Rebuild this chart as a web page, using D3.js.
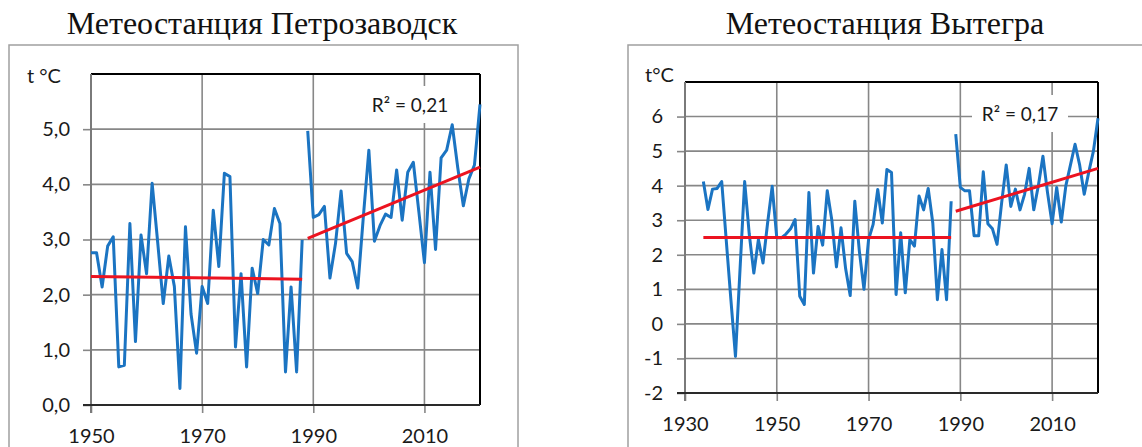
<!DOCTYPE html>
<html>
<head>
<meta charset="utf-8">
<script src="https://cdn.jsdelivr.net/npm/d3@7"></script>
<style>
body { margin: 0; background: #fff; }
svg { display: block; }
</style>
</head>
<body>
<div id="chart"></div>
<script>
// Метеостанция Петрозаводск, среднегодовая температура
var petroYears1 = d3.range(1950, 1989);
var petroTemp1 = [2.76, 2.76, 2.14, 2.88, 3.05, 0.69, 0.72, 3.29, 1.15, 3.08,
	2.38, 4.02, 2.95, 1.84, 2.70, 2.15, 0.30, 3.23, 1.65, 0.94,
	2.15, 1.84, 3.53, 2.51, 4.20, 4.14, 1.05, 2.38, 0.69, 2.48,
	2.02, 3.00, 2.90, 3.56, 3.29, 0.60, 2.14, 0.60, 2.99];
var petroYears2 = d3.range(1989, 2021);
var petroTemp2 = [4.97, 3.40, 3.45, 3.60, 2.30, 2.93, 3.88, 2.75, 2.60, 2.12,
	3.40, 4.62, 2.97, 3.25, 3.46, 3.40, 4.26, 3.35, 4.22, 4.40,
	3.50, 2.58, 4.22, 2.82, 4.48, 4.62, 5.08, 4.30, 3.61, 4.10,
	4.35, 5.45];
var petroTrendYears1 = [1950, 1988];
var petroTrend1 = [2.33, 2.28];
var petroTrendYears2 = [1989, 2020];
var petroTrend2 = [3.02, 4.31];

// Метеостанция Вытегра
var vytYears1 = d3.range(1934, 1989);
var vytTemp1 = [4.12, 3.31, 3.90, 3.92, 4.12, 2.40, 0.70, -0.94, 1.60, 4.12,
	2.60, 1.47, 2.44, 1.76, 2.92, 3.98, 2.49, 2.49, 2.60, 2.75,
	3.02, 0.80, 0.56, 3.80, 1.47, 2.82, 2.28, 3.85, 3.00, 1.65,
	2.78, 1.60, 0.82, 3.55, 2.10, 1.00, 2.44, 2.88, 3.89, 2.92,
	4.47, 4.38, 0.85, 2.64, 0.90, 2.44, 2.25, 3.70, 3.30, 3.92,
	2.92, 0.70, 2.15, 0.70, 3.55];
var vytYears2 = d3.range(1989, 2021);
var vytTemp2 = [5.49, 3.95, 3.85, 3.85, 2.55, 2.55, 4.40, 2.90, 2.75, 2.30,
	3.50, 4.60, 3.40, 3.90, 3.30, 3.75, 4.50, 3.30, 4.00, 4.85,
	3.80, 2.90, 3.95, 2.95, 4.00, 4.60, 5.20, 4.60, 3.75, 4.40,
	5.00, 5.95];
var vytTrendYears1 = [1934, 1988];
var vytTrend1 = [2.50, 2.50];
var vytTrendYears2 = [1989, 2020];
var vytTrend2 = [3.26, 4.50];

var petroYTicks = [0, 1, 2, 3, 4, 5];
var petroXTicks = [1950, 1970, 1990, 2010];
var vytYTicks = [-2, -1, 0, 1, 2, 3, 4, 5, 6];
var vytXTicks = [1930, 1950, 1970, 1990, 2010];

var W = 1142, H = 447;
var svg = d3.select("#chart").append("svg")
	.attr("width", W)
	.attr("height", H);

function zip(xs, ys){
	return xs.map(function(d, i){ return {year: d, t: ys[i]}; });
}

function drawPanel(o){
	var g = svg.append("g");
	var x = d3.scaleLinear().domain(o.xDomain).range([o.left, o.right]);
	var y = d3.scaleLinear().domain(o.yDomain).range([o.bottom, o.top]);

	// outer frame of the picture
	g.append("rect")
		.attr("x", o.box[0])
		.attr("y", o.box[1])
		.attr("width", o.box[2] - o.box[0])
		.attr("height", o.box[3] - o.box[1])
		.attr("fill", "none")
		.attr("stroke", "#a0a0a0")
		.attr("stroke-width", 1.5);

	g.append("text")
		.attr("x", o.titleX)
		.attr("y", 34)
		.attr("text-anchor", "middle")
		.style("font-family", "'Liberation Serif', 'Times New Roman', serif")
		.style("font-size", "32px")
		.attr("fill", "#111")
		.text(o.title);

	// grid
	g.selectAll(".hgrid").data(o.yTicks).enter().append("line")
		.attr("x1", o.left)
		.attr("x2", o.right)
		.attr("y1", function(d){ return y(d); })
		.attr("y2", function(d){ return y(d); })
		.attr("stroke", "#878787")
		.attr("stroke-width", 1.6);
	g.selectAll(".vgrid").data(o.xTicks).enter().append("line")
		.attr("x1", function(d){ return x(d); })
		.attr("x2", function(d){ return x(d); })
		.attr("y1", o.top)
		.attr("y2", o.bottom)
		.attr("stroke", "#878787")
		.attr("stroke-width", 1.6);

	var yAxis = g.append("g")
		.attr("transform", "translate(" + o.left + ",0)")
		.call(d3.axisLeft(y).tickValues(o.yTicks).tickFormat(o.yFmt)
			.tickSize(8).tickPadding(o.yPad).tickSizeOuter(0));
	var xAxis = g.append("g")
		.attr("transform", "translate(0," + o.bottom + ")")
		.call(d3.axisBottom(x).tickValues(o.xTicks).tickFormat(d3.format("d"))
			.tickSize(8).tickPadding(16).tickSizeOuter(0));
	[yAxis, xAxis].forEach(function(a){
		a.select(".domain").remove();
		a.selectAll(".tick line").attr("stroke", "#878787").attr("stroke-width", 1.6);
		a.selectAll(".tick text")
			.style("font-family", "Lato, 'Open Sans', sans-serif")
			.style("font-size", "20px")
			.attr("fill", "#1a1a1a");
	});

	// plot frame: top and right black, left and bottom axes
	g.append("line").attr("x1", o.left).attr("x2", o.right).attr("y1", o.top).attr("y2", o.top)
		.attr("stroke", "#000").attr("stroke-width", 2);
	g.append("line").attr("x1", o.right).attr("x2", o.right).attr("y1", o.top).attr("y2", o.bottom)
		.attr("stroke", "#000").attr("stroke-width", 2);
	g.append("line").attr("x1", o.left).attr("x2", o.left).attr("y1", o.top).attr("y2", o.bottom + 8)
		.attr("stroke", "#7a7a7a").attr("stroke-width", 2);
	g.append("line").attr("x1", o.left - 8).attr("x2", o.right).attr("y1", o.bottom).attr("y2", o.bottom)
		.attr("stroke", "#2a2a2a").attr("stroke-width", 2);

	g.append("text")
		.attr("x", o.unitX)
		.attr("y", o.unitY)
		.style("font-family", "Lato, 'Open Sans', sans-serif")
		.style("font-size", "20px")
		.attr("fill", "#1a1a1a")
		.text(o.unit);

	// R² label with white background
	g.append("rect")
		.attr("x", o.r2Box[0])
		.attr("y", o.r2Box[1])
		.attr("width", o.r2Box[2] - o.r2Box[0])
		.attr("height", o.r2Box[3] - o.r2Box[1])
		.attr("fill", "#fff");
	g.append("text")
		.attr("x", (o.r2Box[0] + o.r2Box[2]) / 2)
		.attr("y", o.r2Y)
		.attr("text-anchor", "middle")
		.style("font-family", "Lato, 'Open Sans', sans-serif")
		.style("font-size", "19px")
		.attr("fill", "#1a1a1a")
		.text(o.r2);

	var line = d3.line()
		.x(function(d){ return x(d.year); })
		.y(function(d){ return y(d.t); });

	o.series.forEach(function(s){
		g.append("path")
			.datum(s)
			.attr("d", line)
			.attr("fill", "none")
			.attr("stroke", "#1b74c2")
			.attr("stroke-width", 3)
			.attr("stroke-linejoin", "round");
	});
	o.trends.forEach(function(s){
		g.append("path")
			.datum(s)
			.attr("d", line)
			.attr("fill", "none")
			.attr("stroke", "#ec1320")
			.attr("stroke-width", 3);
	});
}

drawPanel({
	title: "Метеостанция Петрозаводск",
	titleX: 262,
	box: [9, 45, 518, 470],
	left: 91, right: 480, top: 74, bottom: 405,
	xDomain: [1950, 2020], yDomain: [0, 6],
	xTicks: petroXTicks, yTicks: petroYTicks,
	yFmt: function(d){ return d3.format(".1f")(d).replace(".", ","); },
	yPad: 13,
	unit: "t °C", unitX: 27, unitY: 83,
	r2: "R² = 0,21", r2Box: [364, 86, 456, 123], r2Y: 112,
	series: [zip(petroYears1, petroTemp1), zip(petroYears2, petroTemp2)],
	trends: [zip(petroTrendYears1, petroTrend1), zip(petroTrendYears2, petroTrend2)]
});

drawPanel({
	title: "Метеостанция Вытегра",
	titleX: 885,
	box: [628, 45, 1160, 470],
	left: 685, right: 1098, top: 82, bottom: 393,
	xDomain: [1930, 2020], yDomain: [-2, 7],
	xTicks: vytXTicks, yTicks: vytYTicks,
	yFmt: function(d){ return String(d); },
	yPad: 14,
	unit: "t°C", unitX: 645, unitY: 82,
	r2: "R² = 0,17", r2Box: [972, 95, 1068, 132], r2Y: 121,
	series: [zip(vytYears1, vytTemp1), zip(vytYears2, vytTemp2)],
	trends: [zip(vytTrendYears1, vytTrend1), zip(vytTrendYears2, vytTrend2)]
});
</script>
</body>
</html>
